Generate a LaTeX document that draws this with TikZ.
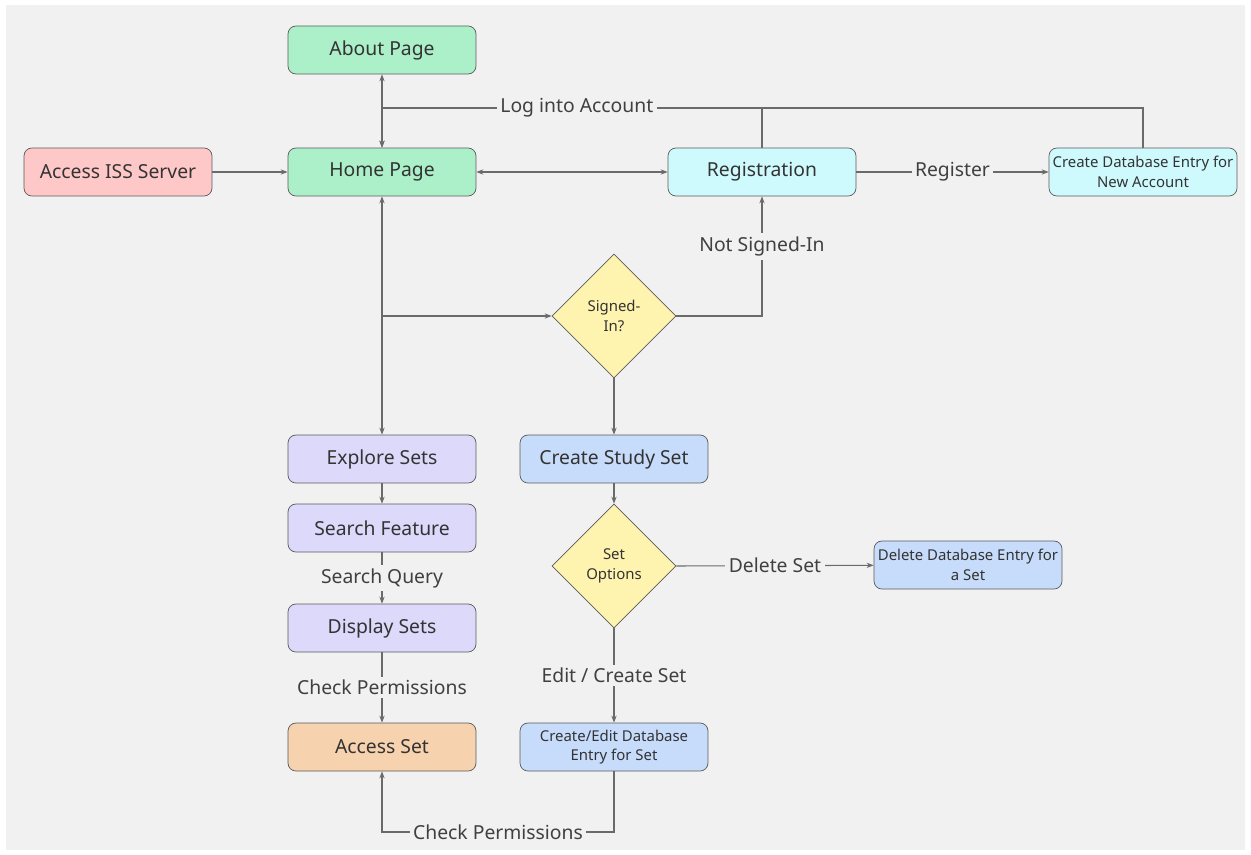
\documentclass[tikz,border=0pt]{standalone}
\usepackage{fontspec}
\setmainfont{Noto Sans}
\usetikzlibrary{arrows.meta,shapes.geometric}

\definecolor{bggray}{HTML}{F1F1F1}
\definecolor{edgegray}{HTML}{5A5A5A}
\definecolor{linegray}{HTML}{6A6A6A}
\definecolor{pagegreen}{HTML}{ABF0C9}
\definecolor{serverred}{HTML}{FFC8C8}
\definecolor{regcyan}{HTML}{CEFAFD}
\definecolor{explorepurple}{HTML}{DCD9FA}
\definecolor{setblue}{HTML}{C6DCFA}
\definecolor{accessorange}{HTML}{F6D2AE}
\definecolor{decyellow}{HTML}{FFF3B0}

\tikzset{
	box/.style={draw=edgegray, rounded corners=4.5pt, minimum width=3.76cm, minimum height=0.96cm, inner sep=1pt, align=center, font=\fontsize{11}{13}\selectfont, text=black!80},
	smallbox/.style={box, font=\fontsize{8.5}{11}\selectfont},
	decision/.style={draw=edgegray, diamond, aspect=1, minimum size=2.48cm, inner sep=0pt, fill=decyellow, align=center, font=\fontsize{8.5}{11}\selectfont, text=black!80},
	flow/.style={draw=linegray, line width=0.6pt, -{Stealth[length=4pt,width=3pt]}},
	biflow/.style={flow, {Stealth[length=4pt,width=3pt]}-{Stealth[length=4pt,width=3pt]}},
	plain/.style={draw=linegray, line width=0.6pt},
	lbl/.style={fill=bggray, inner sep=2pt, font=\fontsize{11}{13}\selectfont, text=black!75}
}

\begin{document}
\begin{tikzpicture}[x=0.02cm, y=-0.02cm]
	% background
	\useasboundingbox (0,0) rectangle (1251,855);
	\fill[bggray] (6,5) rectangle (1245,850);

	% top row
	\node[box, fill=pagegreen] (about) at (382,50) {About Page};
	\node[box, fill=serverred] (server) at (118,172) {Access ISS Server};
	\node[box, fill=pagegreen] (home) at (382,172) {Home Page};
	\node[box, fill=regcyan] (reg) at (762,172) {Registration};
	\node[smallbox, fill=regcyan] (newacc) at (1143,172) {Create Database Entry for\\New Account};

	% decisions
	\node[decision] (signed) at (614,316) {Signed-\\In?};
	\node[decision] (options) at (614,566) {Set\\Options};

	% left column
	\node[box, fill=explorepurple] (explore) at (382,459) {Explore Sets};
	\node[box, fill=explorepurple] (search) at (382,528) {Search Feature};
	\node[box, fill=explorepurple] (display) at (382,628) {Display Sets};
	\node[box, fill=accessorange] (access) at (382,747) {Access Set};

	% right column
	\node[box, fill=setblue] (study) at (614,459) {Create Study Set};
	\node[smallbox, fill=setblue] (deldb) at (968,565) {Delete Database Entry for\\a Set};
	\node[smallbox, fill=setblue] (editdb) at (614,747) {Create/Edit Database\\Entry for Set};

	% junctions
	\coordinate (logj) at (382,108);
	\coordinate (branch) at (382,316);
	\coordinate (cpj) at (614,832);

	% connectors
	\draw[flow] (server) -- (home);
	\draw[biflow] (home) -- (about);
	\draw[biflow] (home) -- (reg);
	\draw[flow] (newacc.north) |- node[lbl, pos=0.872]{Log into Account} (logj) -- (home.north);
	\draw[plain] (reg.north) -- (reg.north |- logj);
	\draw[flow] (reg) -- node[lbl]{Register} (newacc);

	\draw[biflow] (home) -- (explore);
	\draw[flow] (branch) -- (signed.west);
	\draw[flow] (signed.east) -| node[lbl, pos=0.79]{Not Signed-In} (reg.south);
	\draw[flow] (signed.south) -- (study.north);

	\draw[flow] (explore) -- (search);
	\draw[flow] (search) -- node[lbl]{Search Query} (display);
	\draw[flow] (display) -- node[lbl]{Check Permissions} (access);

	\draw[flow] (study) -- (options.north);
	\draw[flow] (options.east) -- node[lbl]{Delete Set} (deldb);
	\draw[flow] (options.south) -- node[lbl]{Edit / Create Set} (editdb);
	\draw[flow] (editdb.south) -- (cpj) -| node[lbl, pos=0.25]{Check Permissions} (access.south);
\end{tikzpicture}
\end{document}
